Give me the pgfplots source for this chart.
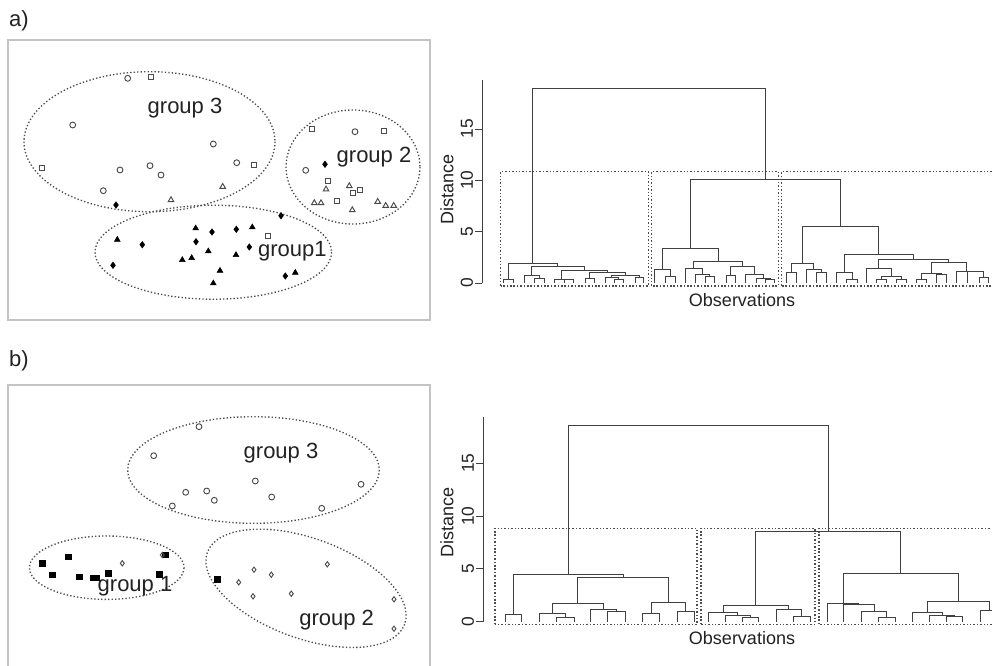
\documentclass[border=0pt]{standalone}
\usepackage{pgfplots}
\pgfplotsset{compat=1.18}
\usepackage{fontspec}
\setmainfont{Liberation Sans}

\definecolor{ink}{HTML}{222222}
\definecolor{dend}{HTML}{404040}
\definecolor{framec}{HTML}{C4C4C4}
\definecolor{hollow}{HTML}{4A4A4A}

\tikzset{
  dotline/.style={line width=1pt, dash pattern=on 1pt off 1.6pt, color=black!70},
  boxline/.style={line width=1.1pt, dash pattern=on 1.1pt off 1.45pt, color=black!70},
  grouplab/.style={font=\fontsize{16.5}{16.5}\selectfont, text=ink},
  axlab/.style={font=\fontsize{13.5}{13.5}\selectfont, text=ink},
}

\pgfplotsset{
  scatterpanel/.style={scale only axis, width=316.5pt, xmin=8, xmax=430,
    y dir=reverse, xtick=\empty, ytick=\empty,
    axis line style={framec, line width=0.8pt}, clip=false},
  dendpanel/.style={scale only axis, axis x line=none, axis y line=left,
    y axis line style={-, dend, line width=0.65pt},
    ytick={0,5,10,15}, tick align=outside, major tick length=5pt,
    tick style={dend, line width=0.65pt},
    yticklabel style={rotate=90, anchor=south, inner sep=1.5pt,
      font=\fontsize{13}{13}\selectfont, text=ink},
    /pgf/number format/assume math mode=true,
    clip=false, unbounded coords=jump},
  dendro/.style={dend, line width=0.7pt, no marks},
  hcirc/.style={only marks, mark=o, mark size=2.2pt, mark options={hollow, line width=0.7pt}},
  hsq/.style={only marks, mark=square, mark size=1.8pt, mark options={hollow, line width=0.75pt}},
  htri/.style={only marks, mark=triangle, mark size=2.4pt, mark options={hollow, line width=0.7pt}},
  fdiam/.style={only marks, mark=diamond*, mark size=2.4pt, mark options={black}},
  ftri/.style={only marks, mark=triangle*, mark size=2.5pt, mark options={black}},
  fsq/.style={only marks, mark=square*, mark size=2.1pt, mark options={black}},
  hdiam/.style={only marks, mark=diamond, mark size=2.0pt, mark options={hollow, line width=0.7pt}},
}

\begin{document}
\begin{tikzpicture}
\path[use as bounding box] (0,0) rectangle (744pt,498.75pt);
\clip (0,0) rectangle (744pt,498.75pt);
\fill[white] (0,0) rectangle (744pt,498.75pt);

\node[grouplab] at (14.25pt,483pt) {a)};
\node[grouplab] at (14.25pt,228pt) {b)};

% ---------- a) scatter with three groups ----------
\begin{axis}[scatterpanel, at={(6pt,468.75pt)}, anchor=north west,
  height=210pt, ymin=40, ymax=320]
  \draw[dotline] (axis cs:149.5,141.7) ellipse [x radius=125.5, y radius=70];
  \draw[dotline] (axis cs:353,167) ellipse [x radius=67, y radius=57];
  \draw[dotline] (axis cs:213.3,252.2) ellipse [x radius=118.3, y radius=47];
  \addplot[hcirc] coordinates {(127.7,78.3) (72.7,125) (213.3,144) (120,170) (150,165.7)
    (161,175) (103.3,190.7) (236.7,162.7) (355,131.7) (305.7,170.3)};
  \addplot[hsq] coordinates {(150.7,77.3) (42.3,168.3) (254.3,165) (312.3,129.3) (384,131)
    (327.7,180.7) (353.3,193.3) (360,190) (337.3,200.7) (267.7,235.7)};
  \addplot[htri] coordinates {(222.7,186.7) (171,200) (326,189.3) (349.3,186) (314.3,203)
    (321,203) (352.3,210) (377.7,201.7) (385.7,205.7) (393.7,205.7)};
  \addplot[fdiam] coordinates {(116,205) (325,164.3) (281,215.7) (212,232) (236.3,229.3)
    (196,241.7) (142.3,244.7) (249.3,247) (113,265.3) (285.3,276)};
  \addplot[ftri] coordinates {(195.7,228.3) (252.3,227.3) (117.3,239.7) (208.3,251.3)
    (191.7,258) (182.3,260) (236,255) (220,270.7) (213.3,283.3) (295.3,272.7)};
  \node[grouplab] at (axis cs:185,108.3) {group 3};
  \node[grouplab] at (axis cs:374,157.3) {group 2};
  \node[grouplab] at (axis cs:292.3,251.7) {group1};
\end{axis}

% ---------- a) dendrogram ----------
\begin{axis}[dendpanel, at={(361.5pt,286.5pt)}, anchor=south west,
  width=382.5pt, height=152.13pt, xmin=482, xmax=992, ymin=0, ymax=19.75]
  \addplot[dendro] coordinates {
    (503,0)(503,0.3)(513,0.3)(513,0)(0,nan)
    (534,0)(534,0.45)(544,0.45)(544,0)(0,nan)
    (524,0)(524,0.75)(539,0.75)(539,0.45)(0,nan)
    (564,0)(564,0.3)(573,0.3)(573,0)(0,nan)
    (554,0)(554,0.38)(568.5,0.38)(568.5,0.3)(0,nan)
    (585,0)(585,0.45)(594,0.45)(594,0)(0,nan)
    (614,0)(614,0.35)(623,0.35)(623,0)(0,nan)
    (605,0)(605,0.55)(618.5,0.55)(618.5,0.35)(0,nan)
    (635,0)(635,0.5)(643,0.5)(643,0)(0,nan)
    (611.75,0.55)(611.75,0.72)(639,0.72)(639,0.5)(0,nan)
    (589.5,0.45)(589.5,1.05)(625.4,1.05)(625.4,0.72)(0,nan)
    (561.25,0.38)(561.25,1.25)(607.45,1.25)(607.45,1.05)(0,nan)
    (531.5,0.75)(531.5,1.6)(584.35,1.6)(584.35,1.25)(0,nan)
    (508,0.3)(508,1.95)(557.9,1.95)(557.9,1.6)(0,nan)
    (665,0)(665,0.62)(675.7,0.62)(675.7,0)(0,nan)
    (654.3,0)(654.3,1.27)(670.35,1.27)(670.35,0.62)(0,nan)
    (705,0)(705,0.62)(714.3,0.62)(714.3,0)(0,nan)
    (695.7,0)(695.7,0.84)(709.65,0.84)(709.65,0.62)(0,nan)
    (685,0)(685,1.43)(702.7,1.43)(702.7,0.84)(0,nan)
    (726,0)(726,0.78)(735.7,0.78)(735.7,0)(0,nan)
    (765.7,0)(765.7,0.39)(774.3,0.39)(774.3,0)(0,nan)
    (756,0)(756,0.48)(770,0.48)(770,0.39)(0,nan)
    (745,0)(745,0.8)(763,0.8)(763,0.48)(0,nan)
    (730.85,0.78)(730.85,1.59)(754,1.59)(754,0.8)(0,nan)
    (693.85,1.43)(693.85,2.07)(742.4,2.07)(742.4,1.59)(0,nan)
    (662.3,1.27)(662.3,3.38)(718.1,3.38)(718.1,2.07)(0,nan)
    (979.3,0)(979.3,0.5)(988.3,0.5)(988.3,0)(0,nan)
    (967.3,0)(967.3,1.12)(983.8,1.12)(983.8,0.5)(0,nan)
    (956.7,0)(956.7,1.17)(975.55,1.17)(975.55,1.12)(0,nan)
    (916.7,0)(916.7,0.3)(926,0.3)(926,0)(0,nan)
    (936.7,0)(936.7,0.8)(946,0.8)(946,0)(0,nan)
    (921.35,0.3)(921.35,0.94)(941.35,0.94)(941.35,0.8)(0,nan)
    (931.35,0.94)(931.35,1.98)(966.1,1.98)(966.1,1.17)(0,nan)
    (876.7,0)(876.7,0.3)(886,0.3)(886,0)(0,nan)
    (896.7,0)(896.7,0.36)(906,0.36)(906,0)(0,nan)
    (881.35,0.3)(881.35,0.62)(901.35,0.62)(901.35,0.36)(0,nan)
    (866,0)(866,1.43)(891.35,1.43)(891.35,0.62)(0,nan)
    (878.7,1.43)(878.7,2.3)(948.7,2.3)(948.7,1.98)(0,nan)
    (846.7,0)(846.7,0.36)(857.3,0.36)(857.3,0)(0,nan)
    (836,0)(836,1.04)(852,1.04)(852,0.36)(0,nan)
    (844,1.04)(844,2.73)(913.7,2.73)(913.7,2.3)(0,nan)
    (786.3,0)(786.3,1.04)(796.3,1.04)(796.3,0)(0,nan)
    (816,0)(816,1.0)(826,1.0)(826,0)(0,nan)
    (806,0)(806,1.33)(821,1.33)(821,1.0)(0,nan)
    (791.3,1.04)(791.3,1.92)(813.5,1.92)(813.5,1.33)(0,nan)
    (802.4,1.92)(802.4,5.55)(878.85,5.55)(878.85,2.73)(0,nan)
    (690.2,3.38)(690.2,10.1)(840.6,10.1)(840.6,5.55)(0,nan)
    (532.95,1.95)(532.95,18.9)(765.4,18.9)(765.4,10.1)
  };
  \draw[boxline] (axis cs:500.5,-0.27) rectangle (axis cs:648.5,10.85);
  \draw[boxline] (axis cs:651.5,-0.27) rectangle (axis cs:778.5,10.85);
  \draw[boxline] (axis cs:781.5,-0.27) rectangle (axis cs:1010,10.85);
  \node[axlab, rotate=90] at (axis cs:447,9.06) {Distance};
  \node[axlab] at (axis cs:742,-1.66) {Observations};
\end{axis}

% ---------- b) scatter with three groups ----------
\begin{axis}[scatterpanel, at={(6pt,210pt)}, anchor=north west,
  height=211.5pt, ymin=385, ymax=667]
  \draw[dotline] (axis cs:253.5,470) ellipse [x radius=125.8, y radius=53.3];
  \draw[dotline] (axis cs:106.7,567.7) ellipse [x radius=77.3, y radius=31.7];
  \draw[dotline, rotate around={-20:(axis cs:306,588.3)}] (axis cs:306,588.3)
    ellipse [x radius=105, y radius=50];
  \addplot[hcirc] coordinates {(199,426.7) (153.7,455.7) (255.3,481) (361,484.3) (185.7,492.3)
    (206.7,491) (214.3,500.3) (271.7,497) (172.3,506) (321.7,508.3)};
  \addplot[fsq] coordinates {(42.3,563) (68,556.7) (52.3,574.7) (79.3,576.7) (92.7,577.7)
    (96.7,577.7) (108.3,573.3) (159.3,574.3) (165,554.7) (217,579)};
  \addplot[hdiam] coordinates {(122.3,563.3) (162.3,555) (254,569.7) (271.3,574.7) (238.7,582.3)
    (327.3,564.3) (253,596.3) (291.3,593.7) (394,599.3) (394,628.7)};
  \node[grouplab] at (axis cs:281,452.7) {group 3};
  \node[grouplab] at (axis cs:135,586.7) {group 1};
  \node[grouplab] at (axis cs:336.7,620) {group 2};
\end{axis}

% ---------- b) dendrogram ----------
\begin{axis}[dendpanel, at={(362.25pt,32.475pt)}, anchor=south west,
  width=381.75pt, height=153.65pt, xmin=483, xmax=992, ymin=0, ymax=19.4]
  \addplot[dendro] coordinates {
    (505.4,0)(505.4,0.7)(521.4,0.7)(521.4,0)(0,nan)
    (556,0)(556,0.4)(574,0.4)(574,0)(0,nan)
    (539.3,0)(539.3,0.8)(565,0.8)(565,0.4)(0,nan)
    (607.9,0)(607.9,0.95)(625.7,0.95)(625.7,0)(0,nan)
    (590,0)(590,1.2)(616.8,1.2)(616.8,0.95)(0,nan)
    (552.15,0.8)(552.15,1.7)(603.4,1.7)(603.4,1.2)(0,nan)
    (642.5,0)(642.5,0.8)(659.6,0.8)(659.6,0)(0,nan)
    (677.5,0)(677.5,0.95)(694.3,0.95)(694.3,0)(0,nan)
    (651.05,0.8)(651.05,1.8)(685.9,1.8)(685.9,0.95)(0,nan)
    (577.8,1.7)(577.8,4.15)(668.5,4.15)(668.5,1.8)(0,nan)
    (513.4,0.7)(513.4,4.45)(623.15,4.45)(623.15,4.15)(0,nan)
    (742.7,0)(742.7,0.4)(758.3,0.4)(758.3,0)(0,nan)
    (725,0)(725,0.55)(750.5,0.55)(750.5,0.4)(0,nan)
    (708.3,0)(708.3,0.85)(737.75,0.85)(737.75,0.55)(0,nan)
    (793.3,0)(793.3,0.47)(810,0.47)(810,0)(0,nan)
    (776,0)(776,1.2)(801.65,1.2)(801.65,0.47)(0,nan)
    (723,0.85)(723,1.58)(788.8,1.58)(788.8,1.2)(0,nan)
    (878.3,0)(878.3,0.38)(895,0.38)(895,0)(0,nan)
    (861.7,0)(861.7,0.95)(886.65,0.95)(886.65,0.38)(0,nan)
    (843.3,0)(843.3,1.6)(874.2,1.6)(874.2,0.95)(0,nan)
    (827.3,0)(827.3,1.68)(858.75,1.68)(858.75,1.6)(0,nan)
    (946.7,0)(946.7,0.47)(962.7,0.47)(962.7,0)(0,nan)
    (929.3,0)(929.3,0.6)(954.7,0.6)(954.7,0.47)(0,nan)
    (912.3,0)(912.3,0.89)(942,0.89)(942,0.6)(0,nan)
    (980.7,0)(980.7,1.1)(998,1.1)(998,0)(0,nan)
    (927.15,0.89)(927.15,1.96)(989.35,1.96)(989.35,1.1)(0,nan)
    (843,1.68)(843,4.58)(958.25,4.58)(958.25,1.96)(0,nan)
    (755.9,1.58)(755.9,8.5)(900.6,8.5)(900.6,4.58)(0,nan)
    (568.3,4.45)(568.3,18.57)(828.25,18.57)(828.25,8.5)
  };
  \draw[boxline] (axis cs:495,-0.25) rectangle (axis cs:697,8.84);
  \draw[boxline] (axis cs:701,-0.25) rectangle (axis cs:815,8.84);
  \draw[boxline] (axis cs:819,-0.25) rectangle (axis cs:1010,8.84);
  \node[axlab, rotate=90] at (axis cs:447,9.44) {Distance};
  \node[axlab] at (axis cs:742,-1.54) {Observations};
\end{axis}
\end{tikzpicture}
\end{document}
